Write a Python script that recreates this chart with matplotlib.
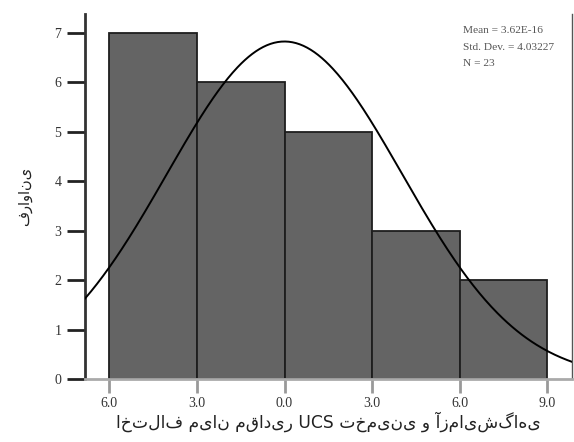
import numpy as np
import matplotlib
matplotlib.use("Agg")
import matplotlib.pyplot as plt

# ---------------- data ----------------
bin_edges = [-6.0, -3.0, 0.0, 3.0, 6.0]
bin_width = 3.0
counts = [7, 6, 5, 3, 2]
mean_val = 0.0
std_val = 4.03227
n_val = 23
xtick_vals = [-6.0, -3.0, 0.0, 3.0, 6.0, 9.0]
xtick_labels = ["6.0", "3.0", "0.0", "3.0", "6.0", "9.0"]
ytick_vals = [0, 1, 2, 3, 4, 5, 6, 7]
stats_text = ["Mean = 3.62E-16", "Std. Dev. = 4.03227", "N = 23"]
xlabel_text = "اختلاف میان مقادیر UCS تخمینی و آزمایشگاهی"
ylabel_text = "فراوانی"

# ---------------- figure ----------------
fig = plt.figure(figsize=(5.74, 4.42), dpi=100)
ax = fig.add_axes([0.148, 0.1425, 0.8485, 0.8255])

ax.bar(bin_edges, counts, width=bin_width, align="edge",
       color="#646464", edgecolor="#1e1e1e", linewidth=1.3, zorder=2)

xmin, xmax = -6.83, 9.84
xs = np.linspace(xmin, xmax, 400)
ys = n_val * bin_width * np.exp(-0.5 * ((xs - mean_val) / std_val) ** 2) / (std_val * np.sqrt(2 * np.pi))
ax.plot(xs, ys, color="black", linewidth=1.4, zorder=3)

ax.set_xlim(xmin, xmax)
ax.set_ylim(0, 7.38)

ax.set_xticks(xtick_vals)
ax.set_xticklabels(xtick_labels)
ax.set_yticks(ytick_vals)
ax.set_yticklabels([str(v) for v in ytick_vals])

serif = ["Liberation Serif", "DejaVu Serif"]
for lab in ax.get_xticklabels() + ax.get_yticklabels():
    lab.set_fontfamily(serif)
    lab.set_fontsize(10)
    lab.set_color("#333333")

ax.tick_params(axis="y", direction="out", length=13, width=2, color="#222222", pad=4)
ax.tick_params(axis="x", direction="out", length=10, width=2, color="#999999", pad=3)

ax.spines["top"].set_visible(False)
ax.spines["left"].set_color("#333333")
ax.spines["left"].set_linewidth(2)
ax.spines["bottom"].set_color("#aaaaaa")
ax.spines["bottom"].set_linewidth(2)
ax.spines["right"].set_color("#555555")
ax.spines["right"].set_linewidth(1)

ax.text(0.776, 0.968, "\n".join(stats_text), transform=ax.transAxes,
        ha="left", va="top", fontsize=8.2, family=serif, color="#555555",
        linespacing=2.1, zorder=4)

ax.set_xlabel(xlabel_text, fontsize=12.3, family=["DejaVu Sans"], labelpad=1, color="#222222")
ax.set_ylabel(ylabel_text, fontsize=10.5, family=["DejaVu Sans"], labelpad=16,
              color="#222222")

fig.savefig("out.png", dpi=100)
